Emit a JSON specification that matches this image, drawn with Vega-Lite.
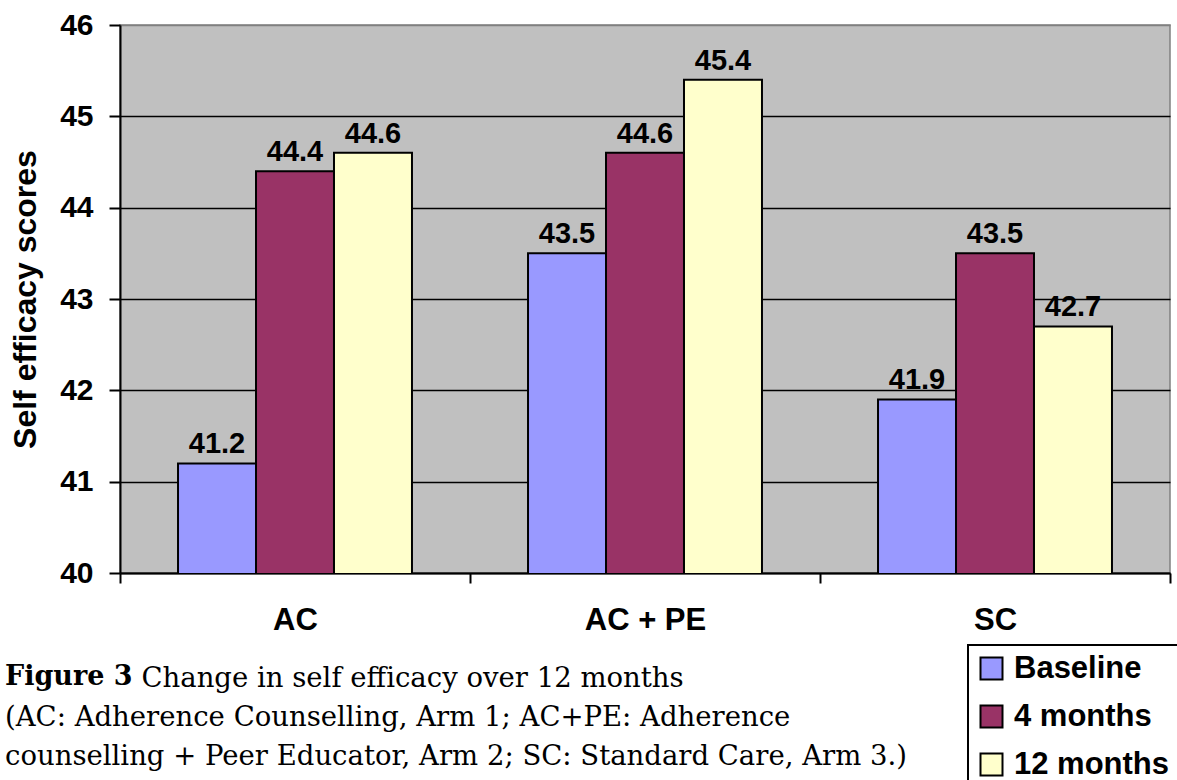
{
  "$schema": "https://vega.github.io/schema/vega-lite/v6.json",
  "width": 1050,
  "height": 548,
  "autosize": {"type": "none"},
  "padding": {"left": 120, "top": 25, "right": 7, "bottom": 207},
  "background": "white",
  "config": {
    "view": {"fill": "#C0C0C0", "stroke": "#808080", "strokeWidth": 1.5},
    "font": "Liberation Sans"
  },
  "data": {
    "values": [
      {"arm": "AC", "time": "Baseline", "score": 41.2},
      {"arm": "AC", "time": "4 months", "score": 44.4},
      {"arm": "AC", "time": "12 months", "score": 44.6},
      {"arm": "AC + PE", "time": "Baseline", "score": 43.5},
      {"arm": "AC + PE", "time": "4 months", "score": 44.6},
      {"arm": "AC + PE", "time": "12 months", "score": 45.4},
      {"arm": "SC", "time": "Baseline", "score": 41.9},
      {"arm": "SC", "time": "4 months", "score": 43.5},
      {"arm": "SC", "time": "12 months", "score": 42.7}
    ]
  },
  "title": {
    "text": "Figure 3",
    "subtitle": ["(AC: Adherence Counselling, Arm 1; AC+PE: Adherence", "counselling + Peer Educator, Arm 2;  SC: Standard Care, Arm 3.)"],
    "orient": "bottom",
    "anchor": "start",
    "frame": "group",
    "dx": -115,
    "offset": -125,
    "font": "DejaVu Serif",
    "fontSize": 27,
    "fontWeight": "bold",
    "color": "black",
    "subtitleFont": "DejaVu Serif",
    "subtitleFontSize": 27.5,
    "subtitleColor": "black",
    "subtitleLineHeight": 39,
    "subtitlePadding": 13
  },
  "encoding": {
    "x": {
      "field": "arm",
      "type": "nominal",
      "sort": ["AC", "AC + PE", "SC"],
      "scale": {"paddingInner": 0, "paddingOuter": 0},
      "axis": {
        "labelAngle": 0,
        "labelFontSize": 31,
        "labelFontWeight": "bold",
        "labelColor": "black",
        "labelPadding": 22,
        "domainColor": "black",
        "domainWidth": 2,
        "tickColor": "black",
        "tickWidth": 2,
        "tickSize": 10,
        "tickBand": "extent",
        "title": "Change in self efficacy over 12 months",
        "titleFont": "DejaVu Serif",
        "titleFontSize": 27.5,
        "titleFontWeight": "normal",
        "titleColor": "black",
        "titleAnchor": "start",
        "titleAlign": "left",
        "titleBaseline": "alphabetic",
        "titleX": 21,
        "titleY": 113
      }
    },
    "xOffset": {
      "field": "time",
      "type": "nominal",
      "sort": ["Baseline", "4 months", "12 months"],
      "scale": {"paddingInner": 0, "paddingOuter": 0.744}
    },
    "y": {
      "field": "score",
      "type": "quantitative",
      "scale": {"domain": [40, 46], "zero": false, "nice": false},
      "axis": {
        "values": [40, 41, 42, 43, 44, 45, 46],
        "labelFontSize": 30,
        "labelFontWeight": "bold",
        "labelColor": "black",
        "labelPadding": 16,
        "tickSize": 11,
        "tickColor": "black",
        "tickWidth": 2,
        "domainColor": "black",
        "domainWidth": 2,
        "grid": true,
        "gridColor": {"condition": {"test": "datum.value == 46", "value": "#808080"}, "value": "black"},
        "gridWidth": 1.5,
        "gridOpacity": 1,
        "title": "Self efficacy scores",
        "titleFontSize": 32,
        "titleFontWeight": "bold",
        "titleColor": "black",
        "titlePadding": 17
      }
    }
  },
  "layer": [
    {
      "mark": {"type": "bar", "stroke": "black", "strokeWidth": 2, "clip": true},
      "encoding": {
        "color": {
          "field": "time",
          "type": "nominal",
          "sort": ["Baseline", "4 months", "12 months"],
          "scale": {"domain": ["Baseline", "4 months", "12 months"], "range": ["#9999FF", "#993366", "#FFFFCC"]},
          "legend": {
            "orient": "none",
            "legendX": 848,
            "legendY": 620,
            "title": null,
            "strokeColor": "black",
            "fillColor": "white",
            "padding": 8,
            "symbolType": "square",
            "symbolSize": 484,
            "symbolStrokeColor": "black",
            "symbolStrokeWidth": 2,
            "symbolOpacity": 1,
            "labelFontSize": 31,
            "labelFontWeight": "bold",
            "labelColor": "black",
            "labelOffset": 7,
            "rowPadding": 16,
            "encode": {"legend": {"update": {"strokeWidth": {"value": 2}}}}
          }
        }
      }
    },
    {
      "mark": {"type": "text", "fontSize": 29, "fontWeight": "bold", "color": "black", "baseline": "middle", "dy": -19},
      "encoding": {
        "text": {"field": "score", "type": "quantitative", "format": ".1f"}
      }
    }
  ]
}
